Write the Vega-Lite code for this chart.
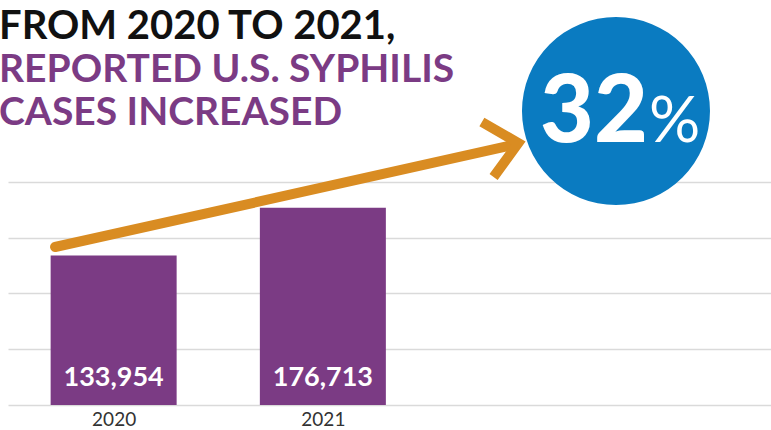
{
  "$schema": "https://vega.github.io/schema/vega-lite/v6.json",
  "width": 763,
  "height": 275,
  "autosize": {"type": "none"},
  "padding": {"left": 8, "top": 130, "right": 0, "bottom": 25},
  "background": "white",
  "config": {"view": {"stroke": null}},
  "title": {
    "text": "FROM 2020 TO 2021,",
    "subtitle": ["REPORTED U.S. SYPHILIS", "CASES INCREASED"],
    "anchor": "start",
    "frame": "group",
    "dx": -9,
    "offset": -116,
    "font": "Lato",
    "fontSize": 40,
    "fontWeight": "bold",
    "color": "#111111",
    "subtitleFont": "Lato",
    "subtitleFontSize": 39,
    "subtitleFontWeight": "bold",
    "subtitleColor": "#7B3B84",
    "subtitleLineHeight": 43,
    "subtitlePadding": 4
  },
  "datasets": {
    "cases": [
      {"year": 2020, "cases": 133954},
      {"year": 2021, "cases": 176713}
    ],
    "shaft": [
      {"from_year": 2019.72, "from_cases": 141625, "to_year": 2021.92, "to_cases": 233500}
    ],
    "head": [
      {"step": 1, "year": 2021.76, "cases": 253670},
      {"step": 2, "year": 2021.934, "cases": 234846},
      {"step": 3, "year": 2021.816, "cases": 204370}
    ],
    "badge": [
      {"year": 2022.401, "cases": 263530, "pct": "32", "sign": "%"}
    ]
  },
  "layer": [
    {
      "data": {"name": "cases"},
      "mark": {"type": "bar", "orient": "vertical", "size": 126, "color": "#7B3B84"},
      "encoding": {
        "x": {
          "field": "year",
          "type": "quantitative",
          "title": null,
          "scale": {"domain": [2019.519, 2023.118], "nice": false, "zero": false},
          "axis": {
            "values": [2020, 2021],
            "format": "d",
            "title": null,
            "grid": false,
            "domain": false,
            "ticks": false,
            "labelFont": "Lato",
            "labelFontSize": 19,
            "labelColor": "#333333",
            "labelPadding": 5
          }
        },
        "y": {
          "field": "cases",
          "type": "quantitative",
          "title": null,
          "scale": {"domain": [0, 246500], "nice": false},
          "axis": {
            "values": [0, 50000, 100000, 150000, 200000],
            "title": null,
            "labels": false,
            "ticks": false,
            "domain": false,
            "grid": true,
            "gridColor": "#DADADA",
            "gridWidth": 1.5
          }
        }
      }
    },
    {
      "data": {"name": "cases"},
      "mark": {"type": "text", "font": "Lato", "fontWeight": "bold", "fontSize": 27, "color": "white", "baseline": "alphabetic", "dy": -19},
      "encoding": {
        "x": {"field": "year", "type": "quantitative", "title": null},
        "y": {"datum": 0, "type": "quantitative", "title": null},
        "text": {"field": "cases", "type": "quantitative", "format": ",d"}
      }
    },
    {
      "data": {"name": "shaft"},
      "mark": {"type": "rule", "color": "#D98C22", "strokeWidth": 10, "strokeCap": "round"},
      "encoding": {
        "x": {"field": "from_year", "type": "quantitative", "title": null},
        "y": {"field": "from_cases", "type": "quantitative", "title": null},
        "x2": {"field": "to_year"},
        "y2": {"field": "to_cases"}
      }
    },
    {
      "data": {"name": "head"},
      "mark": {"type": "line", "color": "#D98C22", "strokeWidth": 10, "strokeJoin": "miter", "strokeCap": "butt"},
      "encoding": {
        "x": {"field": "year", "type": "quantitative", "title": null},
        "y": {"field": "cases", "type": "quantitative", "title": null},
        "order": {"field": "step", "type": "quantitative"}
      }
    },
    {
      "data": {"name": "badge"},
      "mark": {"type": "point", "shape": "circle", "filled": true, "size": 35344, "color": "#0A7BC1", "opacity": 1},
      "encoding": {
        "x": {"field": "year", "type": "quantitative", "title": null},
        "y": {"field": "cases", "type": "quantitative", "title": null}
      }
    },
    {
      "data": {"name": "badge"},
      "mark": {"type": "text", "font": "Lato", "fontWeight": 900, "fontSize": 93, "color": "white", "align": "right", "baseline": "alphabetic", "dx": 32, "dy": 31},
      "encoding": {
        "x": {"field": "year", "type": "quantitative", "title": null},
        "y": {"field": "cases", "type": "quantitative", "title": null},
        "text": {"field": "pct"}
      }
    },
    {
      "data": {"name": "badge"},
      "mark": {"type": "text", "font": "Lato", "fontWeight": "normal", "fontSize": 64, "color": "white", "align": "left", "baseline": "alphabetic", "dx": 33, "dy": 31},
      "encoding": {
        "x": {"field": "year", "type": "quantitative", "title": null},
        "y": {"field": "cases", "type": "quantitative", "title": null},
        "text": {"field": "sign"}
      }
    }
  ]
}
